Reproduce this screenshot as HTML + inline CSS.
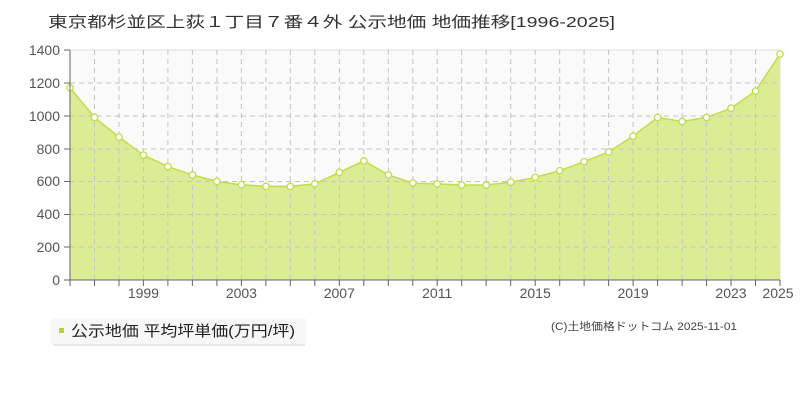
<!DOCTYPE html>
<html><head><meta charset="utf-8"><style>
body{margin:0;background:#fff;width:800px;height:400px;overflow:hidden;font-family:"Liberation Sans","Noto Sans CJK JP",sans-serif}
</style></head><body>
<svg width="800" height="400" xmlns="http://www.w3.org/2000/svg" font-family="'Liberation Sans','Noto Sans CJK JP',sans-serif">
<text x="48" y="27" font-size="15" fill="#333" textLength="567" lengthAdjust="spacingAndGlyphs">東京都杉並区上荻１丁目７番４外 公示地価 地価推移[1996-2025]</text>
<rect x="70" y="50" width="710" height="230" fill="#fafafa"/>
<line x1="70" y1="50" x2="780" y2="50" stroke="#ddd"/>
<line x1="780" y1="50" x2="780" y2="280" stroke="#ddd"/>
<path d="M70,87.8 L94.5,117.4 L119,137.1 L143.4,155.1 L167.9,166.6 L192.4,174.9 L216.9,181.4 L241.4,184.7 L265.9,186.4 L290.3,186.4 L314.8,183.9 L339.3,172.4 L363.8,160.9 L388.3,174.9 L412.8,183.1 L437.2,183.9 L461.7,185 L486.2,185 L510.7,182.2 L535.2,177.3 L559.7,170.7 L584.1,161.7 L608.6,151.9 L633.1,136.2 L657.6,117.4 L682.1,121.5 L706.6,117.4 L731,108.3 L755.5,91.1 L780,54.1 L780,280 L70,280 Z" fill="#dcec94"/>
<g stroke="#c4c4c4" stroke-dasharray="5,4" stroke-width="1">
<line x1="70" y1="83" x2="780" y2="83"/><line x1="70" y1="116" x2="780" y2="116"/><line x1="70" y1="149" x2="780" y2="149"/><line x1="70" y1="181.5" x2="780" y2="181.5"/><line x1="70" y1="214.5" x2="780" y2="214.5"/><line x1="70" y1="247" x2="780" y2="247"/>
<line x1="94.5" y1="50" x2="94.5" y2="280"/><line x1="119" y1="50" x2="119" y2="280"/><line x1="143.4" y1="50" x2="143.4" y2="280"/><line x1="167.9" y1="50" x2="167.9" y2="280"/><line x1="192.4" y1="50" x2="192.4" y2="280"/><line x1="216.9" y1="50" x2="216.9" y2="280"/><line x1="241.4" y1="50" x2="241.4" y2="280"/><line x1="265.9" y1="50" x2="265.9" y2="280"/><line x1="290.3" y1="50" x2="290.3" y2="280"/><line x1="314.8" y1="50" x2="314.8" y2="280"/><line x1="339.3" y1="50" x2="339.3" y2="280"/><line x1="363.8" y1="50" x2="363.8" y2="280"/><line x1="388.3" y1="50" x2="388.3" y2="280"/><line x1="412.8" y1="50" x2="412.8" y2="280"/><line x1="437.2" y1="50" x2="437.2" y2="280"/><line x1="461.7" y1="50" x2="461.7" y2="280"/><line x1="486.2" y1="50" x2="486.2" y2="280"/><line x1="510.7" y1="50" x2="510.7" y2="280"/><line x1="535.2" y1="50" x2="535.2" y2="280"/><line x1="559.7" y1="50" x2="559.7" y2="280"/><line x1="584.1" y1="50" x2="584.1" y2="280"/><line x1="608.6" y1="50" x2="608.6" y2="280"/><line x1="633.1" y1="50" x2="633.1" y2="280"/><line x1="657.6" y1="50" x2="657.6" y2="280"/><line x1="682.1" y1="50" x2="682.1" y2="280"/><line x1="706.6" y1="50" x2="706.6" y2="280"/><line x1="731" y1="50" x2="731" y2="280"/><line x1="755.5" y1="50" x2="755.5" y2="280"/>
</g>
<polyline fill="none" stroke="#c2dc4a" stroke-width="1.5" points="70,87.8 94.5,117.4 119,137.1 143.4,155.1 167.9,166.6 192.4,174.9 216.9,181.4 241.4,184.7 265.9,186.4 290.3,186.4 314.8,183.9 339.3,172.4 363.8,160.9 388.3,174.9 412.8,183.1 437.2,183.9 461.7,185 486.2,185 510.7,182.2 535.2,177.3 559.7,170.7 584.1,161.7 608.6,151.9 633.1,136.2 657.6,117.4 682.1,121.5 706.6,117.4 731,108.3 755.5,91.1 780,54.1"/>
<g fill="#fff" stroke="#c2dc4a" stroke-width="1.3">
<circle cx="70" cy="87.8" r="3.2"/><circle cx="94.5" cy="117.4" r="3.2"/><circle cx="119" cy="137.1" r="3.2"/><circle cx="143.4" cy="155.1" r="3.2"/><circle cx="167.9" cy="166.6" r="3.2"/><circle cx="192.4" cy="174.9" r="3.2"/><circle cx="216.9" cy="181.4" r="3.2"/><circle cx="241.4" cy="184.7" r="3.2"/><circle cx="265.9" cy="186.4" r="3.2"/><circle cx="290.3" cy="186.4" r="3.2"/><circle cx="314.8" cy="183.9" r="3.2"/><circle cx="339.3" cy="172.4" r="3.2"/><circle cx="363.8" cy="160.9" r="3.2"/><circle cx="388.3" cy="174.9" r="3.2"/><circle cx="412.8" cy="183.1" r="3.2"/><circle cx="437.2" cy="183.9" r="3.2"/><circle cx="461.7" cy="185" r="3.2"/><circle cx="486.2" cy="185" r="3.2"/><circle cx="510.7" cy="182.2" r="3.2"/><circle cx="535.2" cy="177.3" r="3.2"/><circle cx="559.7" cy="170.7" r="3.2"/><circle cx="584.1" cy="161.7" r="3.2"/><circle cx="608.6" cy="151.9" r="3.2"/><circle cx="633.1" cy="136.2" r="3.2"/><circle cx="657.6" cy="117.4" r="3.2"/><circle cx="682.1" cy="121.5" r="3.2"/><circle cx="706.6" cy="117.4" r="3.2"/><circle cx="731" cy="108.3" r="3.2"/><circle cx="755.5" cy="91.1" r="3.2"/><circle cx="780" cy="54.1" r="3.2"/>
</g>
<line x1="70" y1="50" x2="70" y2="280" stroke="#666"/>
<line x1="70" y1="280" x2="780" y2="280" stroke="#666"/>
<g stroke="#666">
<line x1="64" y1="50" x2="70" y2="50"/><line x1="64" y1="83" x2="70" y2="83"/><line x1="64" y1="116" x2="70" y2="116"/><line x1="64" y1="149" x2="70" y2="149"/><line x1="64" y1="181.5" x2="70" y2="181.5"/><line x1="64" y1="214.5" x2="70" y2="214.5"/><line x1="64" y1="247" x2="70" y2="247"/><line x1="64" y1="280" x2="70" y2="280"/>
<line x1="70" y1="280" x2="70" y2="286"/><line x1="94.5" y1="280" x2="94.5" y2="286"/><line x1="119" y1="280" x2="119" y2="286"/><line x1="143.4" y1="280" x2="143.4" y2="286"/><line x1="167.9" y1="280" x2="167.9" y2="286"/><line x1="192.4" y1="280" x2="192.4" y2="286"/><line x1="216.9" y1="280" x2="216.9" y2="286"/><line x1="241.4" y1="280" x2="241.4" y2="286"/><line x1="265.9" y1="280" x2="265.9" y2="286"/><line x1="290.3" y1="280" x2="290.3" y2="286"/><line x1="314.8" y1="280" x2="314.8" y2="286"/><line x1="339.3" y1="280" x2="339.3" y2="286"/><line x1="363.8" y1="280" x2="363.8" y2="286"/><line x1="388.3" y1="280" x2="388.3" y2="286"/><line x1="412.8" y1="280" x2="412.8" y2="286"/><line x1="437.2" y1="280" x2="437.2" y2="286"/><line x1="461.7" y1="280" x2="461.7" y2="286"/><line x1="486.2" y1="280" x2="486.2" y2="286"/><line x1="510.7" y1="280" x2="510.7" y2="286"/><line x1="535.2" y1="280" x2="535.2" y2="286"/><line x1="559.7" y1="280" x2="559.7" y2="286"/><line x1="584.1" y1="280" x2="584.1" y2="286"/><line x1="608.6" y1="280" x2="608.6" y2="286"/><line x1="633.1" y1="280" x2="633.1" y2="286"/><line x1="657.6" y1="280" x2="657.6" y2="286"/><line x1="682.1" y1="280" x2="682.1" y2="286"/><line x1="706.6" y1="280" x2="706.6" y2="286"/><line x1="731" y1="280" x2="731" y2="286"/><line x1="755.5" y1="280" x2="755.5" y2="286"/><line x1="780" y1="280" x2="780" y2="286"/>
</g>
<g font-size="14" fill="#555" text-anchor="end">
<text x="60" y="55">1400</text><text x="60" y="88">1200</text><text x="60" y="121">1000</text><text x="60" y="154">800</text><text x="60" y="186">600</text><text x="60" y="219">400</text><text x="60" y="252">200</text><text x="60" y="285">0</text>
</g>
<g font-size="14" fill="#555" text-anchor="middle">
<text x="143.4" y="298">1999</text><text x="241.4" y="298">2003</text><text x="339.3" y="298">2007</text><text x="437.2" y="298">2011</text><text x="535.2" y="298">2015</text><text x="633.1" y="298">2019</text><text x="731" y="298">2023</text><text x="778" y="298">2025</text>
</g>
<rect x="51" y="318" width="256" height="27" rx="4" fill="#f7f7f7"/>
<line x1="53" y1="345" x2="305" y2="345" stroke="#e2e2e2" stroke-width="1.5"/>
<rect x="59" y="328" width="5" height="5" fill="#b5d334"/>
<text x="71" y="336" font-size="15" fill="#222" textLength="224" lengthAdjust="spacingAndGlyphs">公示地価 平均坪単価(万円/坪)</text>
<text x="551" y="330" font-size="11" fill="#444" textLength="186" lengthAdjust="spacingAndGlyphs">(C)土地価格ドットコム 2025-11-01</text>
</svg>
</body></html>
